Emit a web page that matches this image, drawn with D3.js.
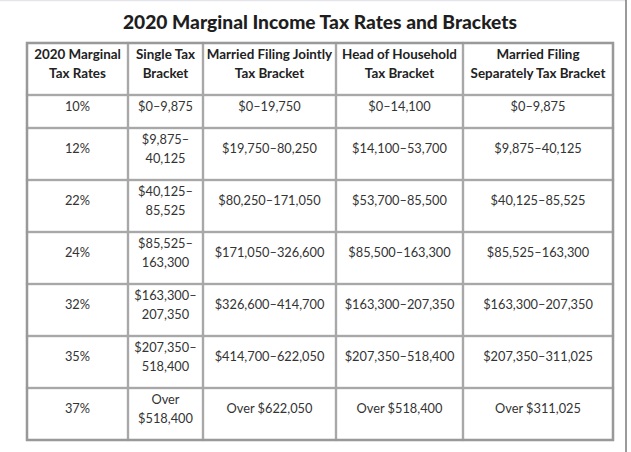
<!DOCTYPE html>
<html><head><meta charset="utf-8">
<script src="https://cdn.jsdelivr.net/npm/d3@7"></script>
<style>
html,body{margin:0;padding:0;background:#fff;}
svg{display:block;}
</style></head>
<body>
<svg id="c" width="631" height="452"></svg>
<script>
const title = "2020 Marginal Income Tax Rates and Brackets";
const headers = [
  ["2020 Marginal", "Tax Rates"],
  ["Single Tax", "Bracket"],
  ["Married Filing Jointly", "Tax Bracket"],
  ["Head of Household", "Tax Bracket"],
  ["Married Filing", "Separately Tax Bracket"]
];
const rates = ["10%", "12%", "22%", "24%", "32%", "35%", "37%"];
const single = [["$0–9,875"], ["$9,875–", "40,125"], ["$40,125–", "85,525"], ["$85,525–", "163,300"], ["$163,300–", "207,350"], ["$207,350–", "518,400"], ["Over", "$518,400"]];
const joint = ["$0–19,750", "$19,750–80,250", "$80,250–171,050", "$171,050–326,600", "$326,600–414,700", "$414,700–622,050", "Over $622,050"];
const head = ["$0–14,100", "$14,100–53,700", "$53,700–85,500", "$85,500–163,300", "$163,300–207,350", "$207,350–518,400", "Over $518,400"];
const separate = ["$0–9,875", "$9,875–40,125", "$40,125–85,525", "$85,525–163,300", "$163,300–207,350", "$207,350–311,025", "Over $311,025"];

const svg = d3.select("#c");
const colEdges = [27, 128, 203, 336, 463, 613];
const tableTop = 43;
const lineH = 19, pad = 14;

const rows = [{header: true, cells: headers}];
rates.forEach((r, i) => rows.push({header: false, cells: [[r], single[i], [joint[i]], [head[i]], [separate[i]]]}));
rows.forEach(r => r.lines = Math.max(2, d3.max(r.cells, c => c.length)));
rows[1].lines = 1;
let acc = 0;
rows.forEach(r => { r.u0 = acc; acc += pad + lineH * r.lines; r.u1 = acc; });
const y = d3.scaleLinear().domain([0, acc]).range([tableTop, tableTop + acc]);

svg.append("line").attr("x1", 0).attr("x2", 626).attr("y1", 0.5).attr("y2", 0.5)
  .attr("stroke", "#e4e4ea").attr("stroke-width", 1.5);
svg.append("line").attr("x1", 626).attr("x2", 626).attr("y1", 0).attr("y2", 452)
  .attr("stroke", "#7a7a7a").attr("stroke-width", 1.5);

svg.append("text").attr("x", 320).attr("y", 29).attr("text-anchor", "middle")
  .attr("font-family", "Lato").attr("font-weight", 900).attr("font-size", 19.2)
  .attr("fill", "#1e1e1e").text(title);

const g = svg.append("g");
rows.forEach((r, ri) => {
  r.cells.forEach((c, ci) => {
    const x0 = colEdges[ci], x1 = colEdges[ci + 1];
    const y0 = y(r.u0), y1 = y(r.u1);
    g.append("rect").attr("x", x0).attr("y", y0).attr("width", x1 - x0).attr("height", y1 - y0)
      .attr("fill", "none").attr("stroke", "#a8a8a8").attr("stroke-width", 2.2);
    const cy = y0 + (y1 - y0 - 12) / 2 + 5;
    const t = g.append("text").attr("text-anchor", "middle")
      .attr("font-family", "Lato").attr("font-size", r.header ? 13.4 : 12.8)
      .attr("font-weight", r.header ? 700 : 400)
      .attr("fill", r.header ? "#222" : "#333");
    c.forEach((s, li) => {
      t.append("tspan").attr("x", (x0 + x1) / 2)
        .attr("y", cy + (li - (c.length - 1) / 2) * lineH).text(s);
    });
  });
});
svg.append("rect").attr("x", colEdges[0]).attr("y", tableTop)
  .attr("width", colEdges[5] - colEdges[0]).attr("height", acc)
  .attr("fill", "none").attr("stroke", "#999").attr("stroke-width", 2.4);
</script>
</body></html>
